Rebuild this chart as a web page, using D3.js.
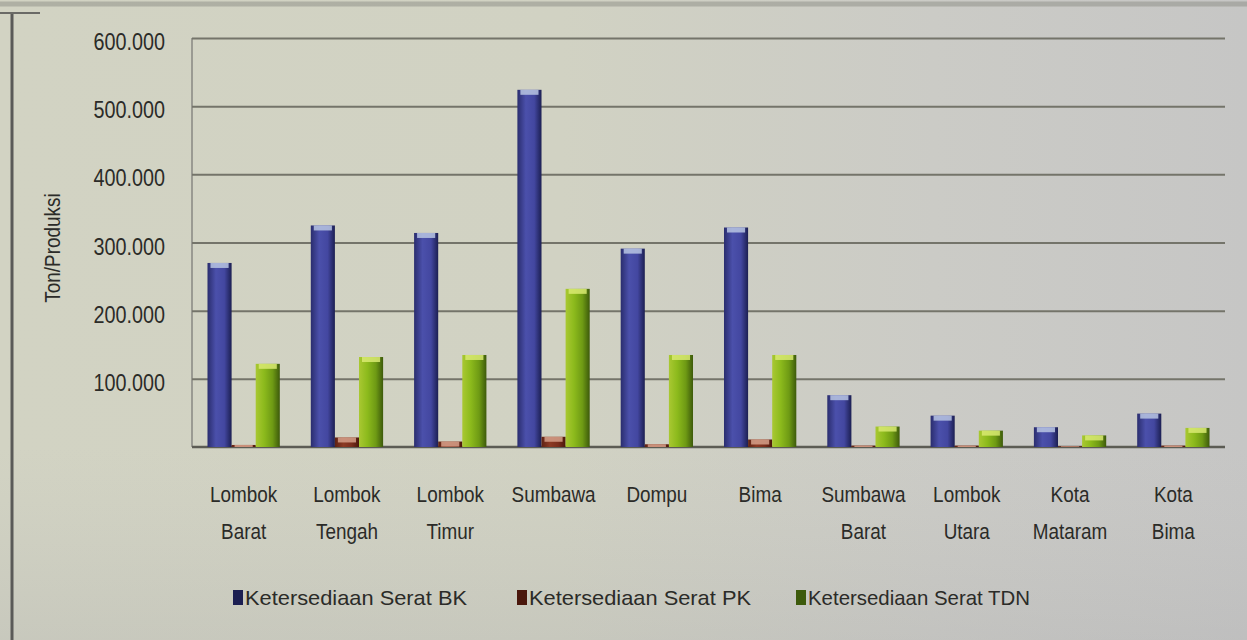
<!DOCTYPE html>
<html>
<head>
<meta charset="utf-8">
<script src="https://cdn.jsdelivr.net/npm/d3@7"></script>
<style>
  html, body { margin: 0; padding: 0; background: #cfd0c4; }
  svg { display: block; }
  text { font-family: "Liberation Sans", Arial, sans-serif; fill: #2b2b28; }
</style>
</head>
<body>
<svg id="chart" width="1247" height="640"></svg>
<script>
// Kabupaten / kota
const categories = [
  "Lombok Barat", "Lombok Tengah", "Lombok Timur", "Sumbawa", "Dompu",
  "Bima", "Sumbawa Barat", "Lombok Utara", "Kota Mataram", "Kota Bima"
];
// Label lines drawn under each group
const categoryLines = [
  ["Lombok", "Barat"], ["Lombok", "Tengah"], ["Lombok", "Timur"], ["Sumbawa"], ["Dompu"],
  ["Bima"], ["Sumbawa", "Barat"], ["Lombok", "Utara"], ["Kota", "Mataram"], ["Kota", "Bima"]
];
const seriesNames = ["Ketersediaan Serat BK", "Ketersediaan Serat PK", "Ketersediaan Serat TDN"];
// Ton per kabupaten
const valuesBK  = [270000, 325000, 314000, 524000, 291000, 322000, 76000, 46000, 29000, 49000];
const valuesPK  = [3000, 14000, 8000, 15000, 4000, 11000, 2000, 2000, 1000, 2000];
const valuesTDN = [122000, 132000, 135000, 232000, 135000, 135000, 30000, 24000, 17000, 28000];
const yTicks = [100000, 200000, 300000, 400000, 500000, 600000];
const yTitle = "Ton/Produksi";

const svg = d3.select("#chart");
const W = 1247, H = 640;
const plot = { left: 192, right: 1225, top: 38, bottom: 447 };
const squeeze = 0.86; // horizontal compression of the narrow chart lettering

const defs = svg.append("defs");

// Background: warm-beige on the left fading to grey on the right
const bg = defs.append("linearGradient").attr("id", "bg").attr("x1", 0).attr("x2", 1).attr("y1", 0).attr("y2", 0);
bg.append("stop").attr("offset", 0).attr("stop-color", "#d2d3c3");
bg.append("stop").attr("offset", 0.45).attr("stop-color", "#d1d2c3");
bg.append("stop").attr("offset", 0.75).attr("stop-color", "#cbcbc6");
bg.append("stop").attr("offset", 1).attr("stop-color", "#c6c6c5");
const bgV = defs.append("linearGradient").attr("id", "bgV").attr("x1", 0).attr("x2", 0).attr("y1", 0).attr("y2", 1);
bgV.append("stop").attr("offset", 0).attr("stop-color", "#ffffff").attr("stop-opacity", 0.0);
bgV.append("stop").attr("offset", 0.7).attr("stop-color", "#b9b9b9").attr("stop-opacity", 0.0);
bgV.append("stop").attr("offset", 1).attr("stop-color", "#a9a9ab").attr("stop-opacity", 0.25);

svg.append("rect").attr("width", W).attr("height", H).attr("fill", "url(#bg)");
svg.append("rect").attr("width", W).attr("height", H).attr("fill", "url(#bgV)");

// Frame edges
svg.append("line").attr("x1", 12).attr("x2", 12).attr("y1", 14).attr("y2", H)
  .attr("stroke", "#5a5a58").attr("stroke-width", 3);
svg.append("line").attr("x1", 0).attr("x2", 40).attr("y1", 13).attr("y2", 13)
  .attr("stroke", "#6a6a66").attr("stroke-width", 2);
svg.append("line").attr("x1", 0).attr("x2", W).attr("y1", 4).attr("y2", 4)
  .attr("stroke", "#8d8e86").attr("stroke-width", 5).attr("opacity", 0.5);

// Bar fills: cylinder-like horizontal shading
const palettes = [
  { id: "gBK",  stops: ["#2a2d6e", "#4b50ab", "#4347a0", "#1c1f52"], cap: "#b9c5e3" },
  { id: "gPK",  stops: ["#5e2214", "#8c3a24", "#7a2e1c", "#4a170c"], cap: "#d6a08a" },
  { id: "gTDN", stops: ["#a9c832", "#8cba1c", "#6e9a14", "#3d5a0b"], cap: "#d9ea72" }
];
palettes.forEach(p => {
  const g = defs.append("linearGradient").attr("id", p.id).attr("x1", 0).attr("x2", 1).attr("y1", 0).attr("y2", 0);
  [0, 0.35, 0.7, 1].forEach((o, i) => g.append("stop").attr("offset", o).attr("stop-color", p.stops[i]));
});

const fmt = d3.formatLocale({ decimal: ",", thousands: ".", grouping: [3], currency: ["Rp", ""] }).format(",d");

const y = d3.scaleLinear().domain([0, 600000]).range([plot.bottom, plot.top]);
const x0 = d3.scaleBand().domain(categories).range([plot.left, plot.right]).paddingInner(0.3).paddingOuter(0.15);
const x1 = d3.scaleBand().domain(seriesNames).range([0, x0.bandwidth()]).padding(0);

// Vertical axis line
svg.append("line").attr("x1", plot.left).attr("x2", plot.left)
  .attr("y1", plot.top).attr("y2", plot.bottom)
  .attr("stroke", "#9a9a92").attr("stroke-width", 2);

// Gridlines
const yAxis = d3.axisLeft(y).tickValues(yTicks).tickSize(-(plot.right - plot.left)).tickFormat("");
const gy = svg.append("g").attr("transform", `translate(${plot.left},0)`).call(yAxis);
gy.select(".domain").remove();
gy.selectAll(".tick line").attr("stroke", "#74746a").attr("stroke-width", 2);

// Tick labels, right-aligned and slightly condensed
svg.append("g").selectAll("g").data(yTicks).join("g")
  .attr("transform", d => `translate(165,${y(d) + 12}) scale(${squeeze},1)`)
  .append("text")
  .attr("text-anchor", "end").attr("font-size", 23)
  .text(d => fmt(d));

// Baseline
svg.append("line").attr("x1", plot.left).attr("x2", plot.right)
  .attr("y1", y(0)).attr("y2", y(0)).attr("stroke", "#5c5c54").attr("stroke-width", 2.5);

// Y title
svg.append("text")
  .attr("transform", `translate(60,248) rotate(-90) scale(${squeeze},1)`)
  .attr("text-anchor", "middle").attr("font-size", 22)
  .text(yTitle);

// Bars
const seriesValues = [valuesBK, valuesPK, valuesTDN];
const rows = categories.map((c, i) => ({ cat: c, lines: categoryLines[i], vals: seriesValues.map((s, k) => ({ k, name: seriesNames[k], v: s[i] })) }));

const groups = svg.append("g").selectAll("g").data(rows).join("g")
  .attr("transform", d => `translate(${x0(d.cat)},0)`);

groups.selectAll("rect.bar").data(d => d.vals).join("rect")
  .attr("class", "bar")
  .attr("x", d => x1(d.name))
  .attr("y", d => y(d.v))
  .attr("width", x1.bandwidth())
  .attr("height", d => y(0) - y(d.v))
  .attr("fill", d => `url(#${palettes[d.k].id})`);

// Light top cap on each bar
groups.selectAll("rect.cap").data(d => d.vals).join("rect")
  .attr("class", "cap")
  .attr("x", d => x1(d.name) + 3)
  .attr("y", d => y(d.v))
  .attr("width", x1.bandwidth() - 6)
  .attr("height", d => Math.min(5, y(0) - y(d.v)))
  .attr("fill", d => palettes[d.k].cap)
  .attr("opacity", 0.85);

// Category labels
svg.append("g").selectAll("g").data(rows).join("g")
  .attr("transform", d => `translate(${x0(d.cat) + x0.bandwidth() / 2},502) scale(${squeeze},1)`)
  .selectAll("text").data(d => d.lines).join("text")
  .attr("text-anchor", "middle")
  .attr("font-size", 22)
  .attr("y", (d, i) => i * 37)
  .text(d => d);

// Legend
const legendX = [233, 517, 796];
const leg = svg.append("g").selectAll("g").data(seriesNames).join("g")
  .attr("transform", (d, i) => `translate(${legendX[i]},590)`);
leg.append("rect").attr("width", 10).attr("height", 15).attr("y", 0)
  .attr("fill", (d, i) => palettes[i].stops[3]);
leg.append("text").attr("x", 12).attr("y", 15).attr("font-size", 21)
  .attr("textLength", 222).attr("lengthAdjust", "spacingAndGlyphs")
  .text(d => d);
</script>
</body>
</html>
